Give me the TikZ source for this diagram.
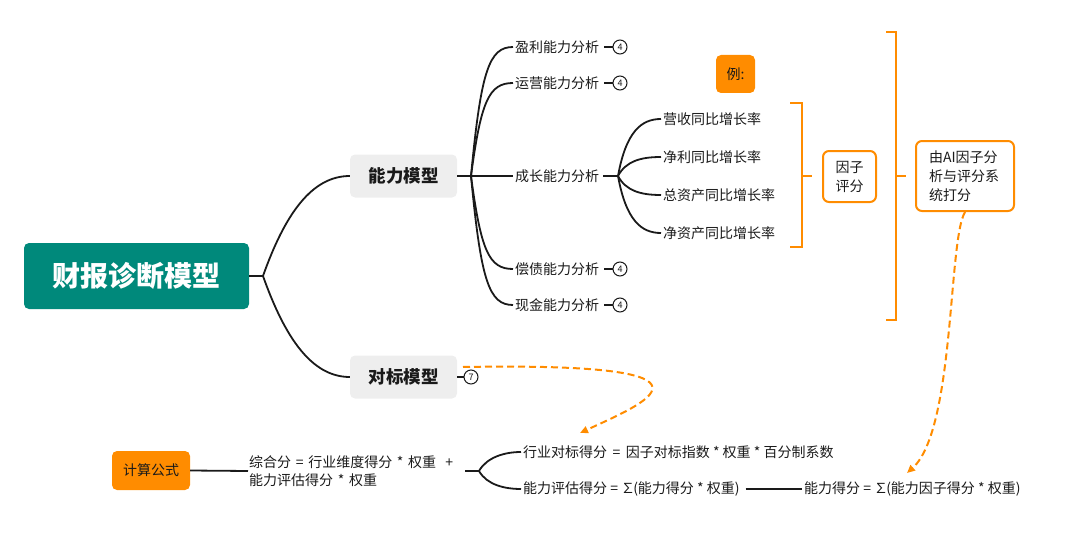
\documentclass[tikz,border=0pt]{standalone}
\usepackage{fontspec}
\setmainfont{Noto Sans CJK SC}
\usetikzlibrary{arrows.meta,calc}
\definecolor{rootc}{HTML}{00897B}
\definecolor{orng}{HTML}{FF8C00}
\definecolor{subbg}{HTML}{EEEEEE}
\definecolor{ink}{HTML}{1A1A1A}
\newcommand{\sumsym}{∑\kern-2pt}
\tikzset{
  rootbox/.style={fill=rootc, rounded corners=5pt, text=white, font=\fontsize{28}{30}\selectfont\bfseries, minimum width=225pt, minimum height=66pt, inner sep=0pt},
  subbox/.style={fill=subbg, rounded corners=5pt, text=ink, font=\fontsize{17.5}{20}\selectfont\bfseries, minimum width=107pt, minimum height=43pt, inner sep=0pt},
  leaf/.style={font=\fontsize{14}{17}\selectfont, text=ink, inner sep=2pt, anchor=west},
  badge/.style={circle, draw=ink, line width=1pt, inner sep=0pt, minimum size=14pt, font=\fontsize{9}{10}\selectfont, text=ink},
  branch/.style={draw=ink, line width=1.8pt},
  brk/.style={draw=orng, line width=2.2pt},
  obox/.style={draw=orng, line width=2pt, rounded corners=6pt, fill=white, text=ink, font=\fontsize{14}{19}\selectfont, align=left},
  ofill/.style={fill=orng, rounded corners=5pt, text=ink, font=\fontsize{14}{17}\selectfont, inner sep=0pt},
  dasharrow/.style={draw=orng, line width=2pt, dash pattern=on 7pt off 4pt, -{Triangle[length=8pt,width=7pt]}}
}
\begin{document}
\begin{tikzpicture}[x=1pt,y=-1pt]
\useasboundingbox (0,0) rectangle (1080,543);
% root and main branches
\node[rootbox] (root) at (136.5,276) {财报诊断模型};
\node[subbox] (abil) at (403.5,176) {能力模型};
\node[subbox] (bench) at (403.5,377) {对标模型};
\coordinate (jr) at (263,276);
\draw[branch] (root.east) -- (jr);
\draw[branch] (jr) .. controls +(22,-62) and +(-38,0) .. (abil.west);
\draw[branch] (jr) .. controls +(22,62) and +(-38,0) .. (bench.west);
% ability children
\node[leaf] (yl) at (513,47) {盈利能力分析};
\node[leaf] (yy) at (513,83) {运营能力分析};
\node[leaf] (cz) at (513,176) {成长能力分析};
\node[leaf] (cj) at (513,269) {偿债能力分析};
\node[leaf] (xj) at (513,305) {现金能力分析};
\coordinate (ja) at (471,176);
\draw[branch] (abil.east) -- (ja);
\draw[branch] (ja) .. controls +(10,-105) and +(-24,0) .. (yl.west);
\draw[branch] (ja) .. controls +(10,-75) and +(-24,0) .. (yy.west);
\draw[branch] (ja) -- (cz.west);
\draw[branch] (ja) .. controls +(10,75) and +(-24,0) .. (cj.west);
\draw[branch] (ja) .. controls +(10,105) and +(-24,0) .. (xj.west);
\node[badge] (b1) at (620,47) {4};
\node[badge] (b2) at (620,83) {4};
\node[badge] (b3) at (620,269) {4};
\node[badge] (b4) at (620,305) {4};
\draw[branch] (yl.east) ++(3,0) -- (b1.west);
\draw[branch] (yy.east) ++(3,0) -- (b2.west);
\draw[branch] (cj.east) ++(3,0) -- (b3.west);
\draw[branch] (xj.east) ++(3,0) -- (b4.west);
% growth children
\node[leaf] (g1) at (661,119) {营收同比增长率};
\node[leaf] (g2) at (661,157) {净利同比增长率};
\node[leaf] (g3) at (661,195) {总资产同比增长率};
\node[leaf] (g4) at (661,233) {净资产同比增长率};
\coordinate (jg) at (618,176);
\draw[branch] (cz.east) ++(2,0) -- (jg);
\draw[branch] (jg) .. controls +(8,-44) and +(-20,0) .. (g1.west);
\draw[branch] (jg) .. controls +(8,-15) and +(-20,0) .. (g2.west);
\draw[branch] (jg) .. controls +(8,15) and +(-20,0) .. (g3.west);
\draw[branch] (jg) .. controls +(8,44) and +(-20,0) .. (g4.west);
% brackets and boxes
\draw[brk] (790,103) -- (802,103) -- (802,247) -- (790,247);
\draw[brk] (802,176) -- (812,176);
\node[obox, minimum width=53pt, minimum height=51pt, inner sep=0pt, align=center] (yz) at (849.5,176.5) {因子\\评分};
\draw[brk] (886,32) -- (896,32) -- (896,320) -- (886,320);
\draw[brk] (896,176) -- (906,176);
\node[obox, minimum width=98pt, minimum height=70pt, inner sep=0pt, text width=72pt] (ai) at (965,176) {由AI因子分\\析与评分系\\统打分};
\node[ofill, minimum width=39pt, minimum height=38pt] (eg) at (735.5,74) {例:};
% benchmark badge
\node[badge] (b7) at (471,377) {7};
\draw[branch] (bench.east) -- (b7.west);
% bottom formula
\node[ofill, minimum width=78pt, minimum height=39pt] (calc) at (151,470.5) {计算公式};
\node[font=\fontsize{14}{18.5}\selectfont, text=ink, anchor=west, align=left, text width=212pt, inner sep=1pt] (form) at (248,471) {综合分 = 行业维度得分 * 权重 \ +\\能力评估得分 * 权重};
\draw[branch] (calc.east) -- (form.west);
\coordinate (jf) at (479,471);
\draw[branch] (form.east) ++(3,0) -- (jf);
\node[leaf] (ra) at (521,452) {行业对标得分 \,=\, 因子对标指数 * 权重 * 百分制系数};
\node[leaf] (rb) at (521,489) {能力评估得分 = \sumsym(能力得分 * 权重)};
\node[leaf] (rc) at (802,489) {能力得分 = \sumsym(能力因子得分 * 权重)};
\draw[branch] (jf) .. controls +(8,-14) and +(-16,0) .. (ra.west);
\draw[branch] (jf) .. controls +(8,14) and +(-16,0) .. (rb.west);
\draw[branch] (rb.east) ++(4,0) -- (rc.west);
% dashed relations
\coordinate (d1s) at (463,367);
\coordinate (d1e) at (580,433);
\draw[dasharrow] (d1s) .. controls (750,362) and (640,405) .. (d1e);
\coordinate (d2e) at (907,473);
\draw[dasharrow] (ai.south) .. controls (948,240) and (955,430) .. (d2e);
\end{tikzpicture}
\end{document}
